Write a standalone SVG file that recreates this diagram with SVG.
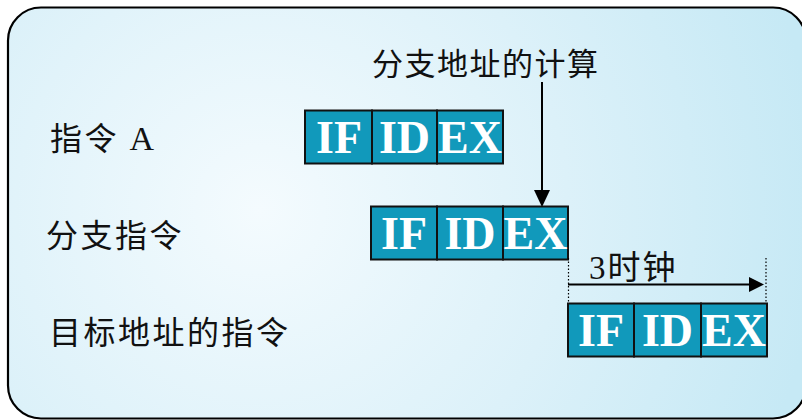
<svg xmlns="http://www.w3.org/2000/svg" width="802" height="420" viewBox="0 0 802 420">
<defs>
<radialGradient id="bg" cx="260" cy="210" r="560" gradientUnits="userSpaceOnUse">
<stop offset="0" stop-color="#f4fbfe"/>
<stop offset="0.55" stop-color="#dcf1f9"/>
<stop offset="1" stop-color="#c6e9f5"/>
</radialGradient>
<style>
.cell{fill:#1199bb;stroke:#111;stroke-width:2}
.st{font-family:"Liberation Serif",serif;font-weight:bold;font-size:46px;fill:#fff;text-anchor:middle}
.lb{font-family:"Liberation Serif","Noto Sans CJK SC",serif;font-size:32px;fill:#111;letter-spacing:2.5px}
.ln{stroke:#000;stroke-width:2;fill:none}
.dot{stroke:#000;stroke-width:1.2;stroke-dasharray:1.5 2;fill:none}
</style>
</defs>
<rect x="8" y="7.5" width="798" height="411" rx="33" fill="url(#bg)" stroke="#000" stroke-width="2.2"/>
<g id="labels">
<text class="lb" x="50" y="150">指令 <tspan style="font-size:34px">A</tspan></text>
<text class="lb" x="46" y="247">分支指令</text>
<text class="lb" x="49" y="344">目标地址的指令</text>
</g>
<g id="instrA">
<rect class="cell" x="305" y="110.5" width="67" height="53"/>
<rect class="cell" x="372" y="110.5" width="65" height="53"/>
<rect class="cell" x="437" y="110.5" width="66" height="53"/>
<text class="st" x="339" y="153">IF</text>
<text class="st" x="404.5" y="153">ID</text>
<text class="st" x="470" y="153">EX</text>
</g>
<g id="branch">
<rect class="cell" x="371" y="206.5" width="66" height="53"/>
<rect class="cell" x="437" y="206.5" width="66" height="53"/>
<rect class="cell" x="503" y="206.5" width="65" height="53"/>
<text class="st" x="404" y="249">IF</text>
<text class="st" x="470" y="249">ID</text>
<text class="st" x="535.5" y="249">EX</text>
</g>
<g id="target">
<rect class="cell" x="568" y="303.5" width="66" height="53"/>
<rect class="cell" x="634" y="303.5" width="67" height="53"/>
<rect class="cell" x="701" y="303.5" width="66" height="53"/>
<text class="st" x="601" y="346">IF</text>
<text class="st" x="667.5" y="346">ID</text>
<text class="st" x="734" y="346">EX</text>
</g>
<g id="branch-calc">
<text class="lb" x="372" y="75" style="font-size:31px;letter-spacing:1.5px">分支地址的计算</text>
</g>
<g id="clock-label">
<text class="lb" x="589" y="279" style="font-size:33px;letter-spacing:2px">3时钟</text>
</g>
<g id="connectors">
<line class="ln" x1="542" y1="82" x2="542" y2="192"/>
<polygon points="534,190 550,190 542,207" fill="#000"/>
<line class="dot" x1="568.5" y1="258" x2="568.5" y2="303"/>
<line class="dot" x1="766" y1="258" x2="766" y2="303"/>
<line class="ln" x1="568" y1="284.5" x2="750" y2="284.5"/>
<polygon points="749,277 749,292 764,284.5" fill="#000"/>
</g>
</svg>
